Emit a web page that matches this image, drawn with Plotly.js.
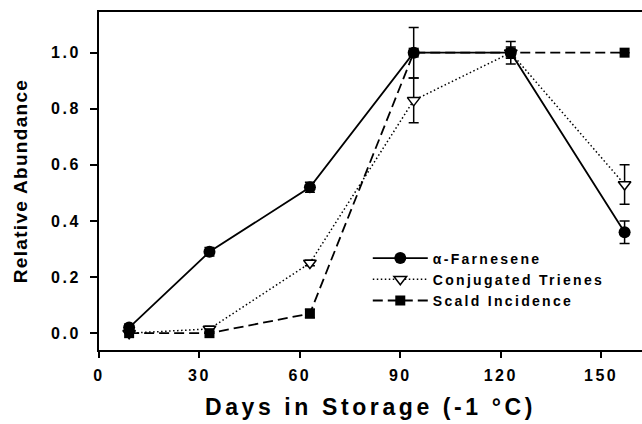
<!DOCTYPE html>
<html>
<head>
<meta charset="utf-8">
<script src="https://cdn.plot.ly/plotly-3.0.1.min.js"></script>
<style>
html, body { margin: 0; padding: 0; overflow: hidden; background: #fff; }
#chart { width: 642px; height: 424px; }
.xtick text, .ytick text { letter-spacing: 2.5px; }
.legendtext { letter-spacing: 2.3px; }
.xtitle { letter-spacing: 3.6px; }
.ytitle { letter-spacing: 1.3px; }
</style>
</head>
<body>
<div id="chart"></div>
<script>
// Data
const days = [9, 33, 63, 94, 123, 157];

const farnesene = [0.02, 0.29, 0.52, 1.00, 1.00, 0.36];
const farneseneErr = [0.012, 0.015, 0.018, 0.09, 0.04, 0.04];

const trienes = [0.00, 0.015, 0.25, 0.83, 1.00, 0.53];
const trienesErr = [0.0, 0.01, 0.01, 0.08, 0.02, 0.07];

const scald = [0.00, 0.00, 0.07, 1.00, 1.00, 1.00];
const scaldErr = [0.0, 0.0, 0.015, 0.0, 0.0, 0.0];

const seriesNames = ['\u03b1-Farnesene', 'Conjugated Trienes', 'Scald Incidence'];
const xTickVals = [0, 30, 60, 90, 120, 150];
const yTickVals = [0.0, 0.2, 0.4, 0.6, 0.8, 1.0];
const yTickText = ['0.0', '0.2', '0.4', '0.6', '0.8', '1.0'];
const xTitle = 'Days in Storage (-1 \u00b0C)';
const yTitle = 'Relative Abundance';

const errStyle = {type: 'data', visible: true, color: '#000', thickness: 1.5, width: 5};

const traces = [
  {
    x: days, y: farnesene, name: seriesNames[0], type: 'scatter', mode: 'lines+markers',
    line: {color: '#000', width: 1.8, dash: 'solid'},
    marker: {symbol: 'circle', size: 12, color: '#000', line: {color: '#000', width: 0}},
    error_y: Object.assign({array: farneseneErr}, errStyle)
  },
  {
    x: days, y: trienes, name: seriesNames[1], type: 'scatter', mode: 'lines+markers',
    line: {color: '#000', width: 1.5, dash: '1.5px,2.5px'},
    marker: {symbol: 'triangle-down', size: 11, color: '#fff', line: {color: '#000', width: 1.5}},
    error_y: Object.assign({array: trienesErr}, errStyle)
  },
  {
    x: days, y: scald, name: seriesNames[2], type: 'scatter', mode: 'lines+markers',
    line: {color: '#000', width: 1.8, dash: '10px,5px'},
    marker: {symbol: 'square', size: 10, color: '#000', line: {color: '#000', width: 0}},
    error_y: Object.assign({array: scaldErr}, errStyle)
  }
];

const fontFam = 'Liberation Sans, Arial, sans-serif';

const layout = {
  width: 642, height: 424,
  margin: {l: 99, r: 0, t: 12, b: 74, pad: 0},
  paper_bgcolor: '#fff', plot_bgcolor: '#fff',
  showlegend: true,
  font: {family: fontFam, color: '#000'},
  xaxis: {
    range: [0, 162.2],
    tickvals: xTickVals,
    ticktext: xTickVals.map(String),
    showline: true, linecolor: '#000', linewidth: 2, mirror: true,
    ticks: 'outside', ticklen: 6, tickwidth: 2, tickcolor: '#000',
    showgrid: false, zeroline: false,
    tickfont: {family: fontFam, size: 16, weight: 'bold', color: '#000'},
    ticklabelstandoff: 4,
    automargin: false,
    title: {text: xTitle, font: {family: fontFam, size: 23, weight: 'bold', color: '#000'}, standoff: 16}
  },
  yaxis: {
    range: [-0.06, 1.145],
    tickvals: yTickVals,
    ticktext: yTickText,
    showline: true, linecolor: '#000', linewidth: 2, mirror: false,
    ticks: 'outside', ticklen: 7, tickwidth: 2, tickcolor: '#000',
    showgrid: false, zeroline: false,
    tickfont: {family: fontFam, size: 16, weight: 'bold', color: '#000'},
    ticklabelstandoff: 6,
    automargin: false,
    title: {text: yTitle, font: {family: fontFam, size: 19, weight: 'bold', color: '#000'}, standoff: 18}
  },
  legend: {
    x: 0.495, y: 0.318, xanchor: 'left', yanchor: 'top',
    bgcolor: 'rgba(0,0,0,0)', borderwidth: 0,
    font: {family: fontFam, size: 14, weight: 'bold', color: '#000'},
    itemwidth: 55,
    tracegroupgap: 0
  }
};

Plotly.newPlot('chart', traces, layout, {staticPlot: true, displayModeBar: false});
</script>
</body>
</html>
